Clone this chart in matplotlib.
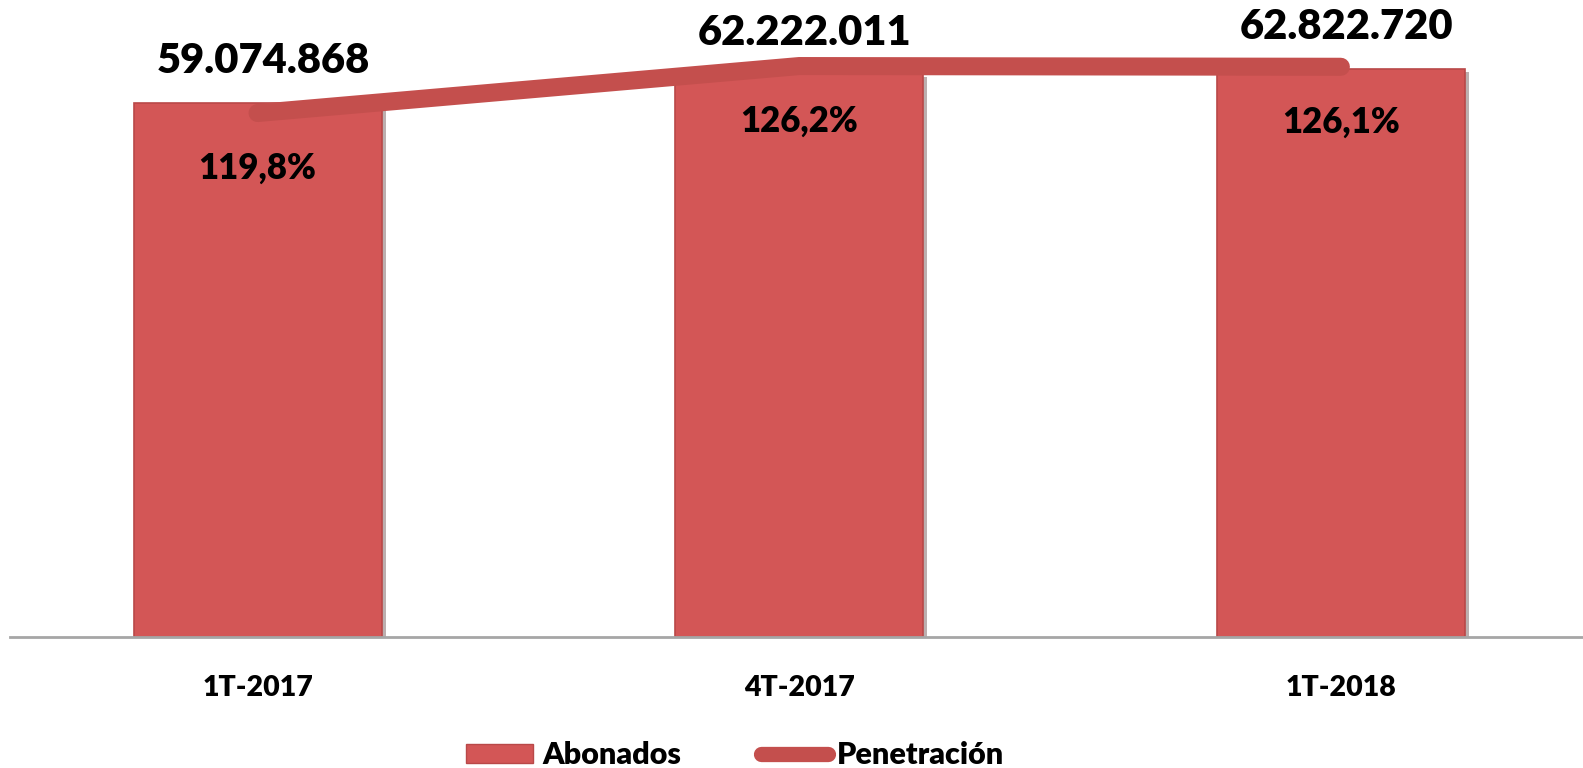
import matplotlib
matplotlib.use("Agg")
import matplotlib.pyplot as plt
import matplotlib.patches as mpatches
import matplotlib.patheffects as pe
from matplotlib.lines import Line2D

categorias = ["1T-2017", "4T-2017", "1T-2018"]
abonados = [59074868, 62222011, 62822720]
penetracion = [119.8, 126.2, 126.1]

bar_color = "#d35656"
line_color = "#c44f4d"

plt.rcParams['font.family'] = ['Lato', 'DejaVu Sans']
plt.rcParams['font.weight'] = 'heavy'

fig = plt.figure(figsize=(15.83, 7.68), dpi=100)
ax = fig.add_axes([10 / 1583, 1 - 637 / 768, 1 - 10 / 1583, 637 / 768])

x = list(range(len(categorias)))
bars = ax.bar(x, abonados, width=0.458, color=bar_color, edgecolor="#b94848", linewidth=1.2,
              zorder=2)
for b in bars:
    b.set_path_effects([pe.SimplePatchShadow(offset=(3, -2), alpha=0.35), pe.Normal()])

ax.set_xlim(-0.457, 2.447)
ax.set_ylim(0, 70.45e6)
for s in ["top", "right", "left"]:
    ax.spines[s].set_visible(False)
ax.spines["bottom"].set_color("#a6a6a6")
ax.spines["bottom"].set_linewidth(2)
ax.set_yticks([])
ax.set_xticks(x)
ax.set_xticklabels(categorias, fontsize=20.5, fontweight='heavy')
ax.tick_params(axis='x', length=0, pad=27)

for xi, v in zip(x, abonados):
    lbl = f"{v:,}".replace(",", ".")
    ax.annotate(lbl, (xi, v), xytext=(4, 30), textcoords="offset points",
                ha="center", va="center", fontsize=30, fontweight='heavy')

ax2 = ax.twinx()
ax2.set_ylim(48.4, 135.2)
ax2.axis("off")
ax2.plot(x, penetracion, color=line_color, linewidth=13, solid_capstyle="round",
         solid_joinstyle="round", zorder=3)
for xi, p in zip(x, penetracion):
    lbl = f"{p:.1f}%".replace(".", ",")
    ax2.annotate(lbl, (xi, p), xytext=(0, -40), textcoords="offset points",
                 ha="center", va="center", fontsize=25, fontweight='heavy')

h1 = mpatches.Patch(facecolor=bar_color, edgecolor="#b94848", label="Abonados")
h2 = Line2D([0], [0], color=line_color, linewidth=11, solid_capstyle="round", label="Penetración")
fig.legend(handles=[h1, h2], loc="center", bbox_to_anchor=(735 / 1583, 1 - 755 / 768),
           ncol=2, frameon=False, handlelength=2.2, handletextpad=0.3, handleheight=0.6,
           columnspacing=2.6, prop={'weight': 'heavy', 'size': 22})

fig.savefig("out.png", dpi=100)
